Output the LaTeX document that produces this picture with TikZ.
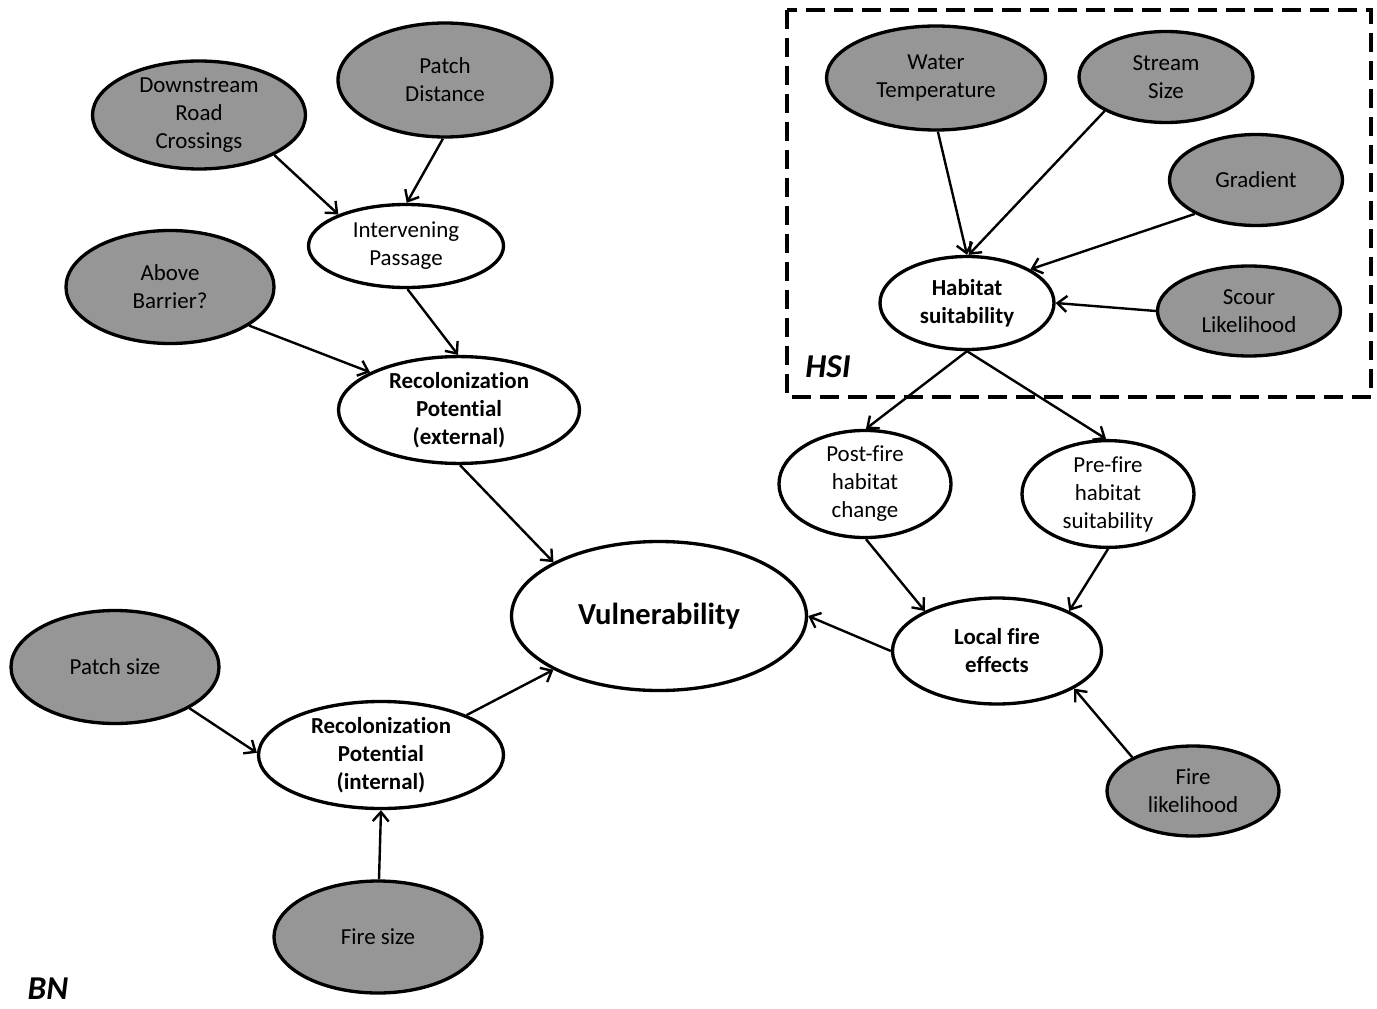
\documentclass[tikz,border=0pt]{standalone}
\usepackage{fontspec}
\setmainfont{Carlito}[Ligatures=CommonOff]
\usetikzlibrary{shapes.geometric,arrows.meta}
\definecolor{obsgray}{HTML}{969696}
\begin{document}
\begin{tikzpicture}[x=0.75pt,y=-0.75pt,
  sz/.style 2 args={minimum width=#1*0.75pt, minimum height=#2*0.75pt},
  base/.style={ellipse, draw=black, line width=2.5pt, inner sep=0pt, align=center,
    font=\fontsize{17.2}{21}\selectfont},
  obs/.style={base, fill=obsgray},
  lat/.style={base, fill=white},
  latb/.style={base, fill=white, font=\fontsize{17.2}{21}\selectfont\bfseries},
  big/.style={font=\fontsize{22.9}{27}\selectfont\bfseries},
  lbl/.style={inner sep=0pt, font=\fontsize{25}{30}\selectfont\bfseries\itshape},
  arr/.style={-{Straight Barb[length=7pt,width=12pt,line width=1.8pt]}, line width=1.8pt},
  hsibox/.style={draw=black, line width=2.7pt, dash pattern=on 14pt off 7pt}
]
\useasboundingbox (0,0) rectangle (1377,1009);

\draw[hsibox] (787,10) rectangle (1371,397);

\node[obs, sz={213}{108}] (drc) at (199,115) {Downstream\\Road\\Crossings};
\node[obs, sz={214}{114}] (pd) at (445,80) {Patch\\Distance};
\node[lat, sz={195}{83}] (ip) at (406,246) {Intervening\\Passage};
\node[obs, sz={208}{113}] (ab) at (170,287) {Above\\Barrier?};
\node[latb, sz={241}{102}] (rpe) at (459,410) {Recolonization\\Potential\\(external)};
\node[lat, big, sz={295}{149}] (vul) at (659,616) {Vulnerability};
\node[obs, sz={208}{113}] (ps) at (115,667) {Patch size};
\node[latb, sz={245}{107}] (rpi) at (381,755) {Recolonization\\Potential\\(internal)};
\node[obs, sz={208}{112}] (fs) at (378,937) {Fire size};
\node[obs, sz={219}{104}] (wt) at (936,78) {Water\\Temperature};
\node[obs, sz={174}{91}] (ss) at (1166,77) {Stream\\Size};
\node[obs, sz={173}{91}] (gr) at (1256,180) {Gradient};
\node[latb, sz={174}{93}] (hs) at (967,303) {Habitat\\suitability};
\node[obs, sz={183}{90}] (sl) at (1249,311) {Scour\\Likelihood};
\node[lat, sz={172}{84}] (pof) at (865,484) {Post-fire\\habitat\\change};
\node[lat, sz={172}{89}] (prf) at (1108,494) {Pre-fire\\habitat\\suitability};
\node[latb, sz={209}{106}] (lfe) at (997,651) {Local fire\\effects};
\node[obs, sz={172}{90}] (fl) at (1193,791) {Fire\\likelihood};

\node[lbl] (hsi) at (828,367) {HSI};
\node[lbl] (bn) at (48,989) {BN};

\draw[arr] (drc.-28) -- (ip.155);
\draw[arr] (pd.-92) -- (ip.89);
\draw[arr] (ip.-88) -- (rpe.91);
\draw[arr] (ab.-26) -- (rpe.157);
\draw[arr] (rpe.-89) -- (vul.153);
\draw[arr] (rpi.25) -- (vul.207);
\draw[arr] (ps.-29) -- (rpi.179);
\draw[arr] (fs.89) -- (rpi.-90);
\draw[arr] (lfe.180) -- (vul.0);
\draw[arr] (pof.-89) -- (lfe.151);
\draw[arr] (prf.-90) -- (lfe.29);
\draw[arr] (fl.151) -- (lfe.-26);
\draw[arr] (hs.-90) -- (pof.89);
\draw[arr] (hs.-90) -- (prf.92);
\draw[arr] (wt.-88) -- (hs.90);
\draw[arr] (ss.209) -- (hs.88);
\draw[arr] (gr.209) -- (hs.28);
\draw[arr] (sl.180) -- (hs.0);
\end{tikzpicture}
\end{document}
